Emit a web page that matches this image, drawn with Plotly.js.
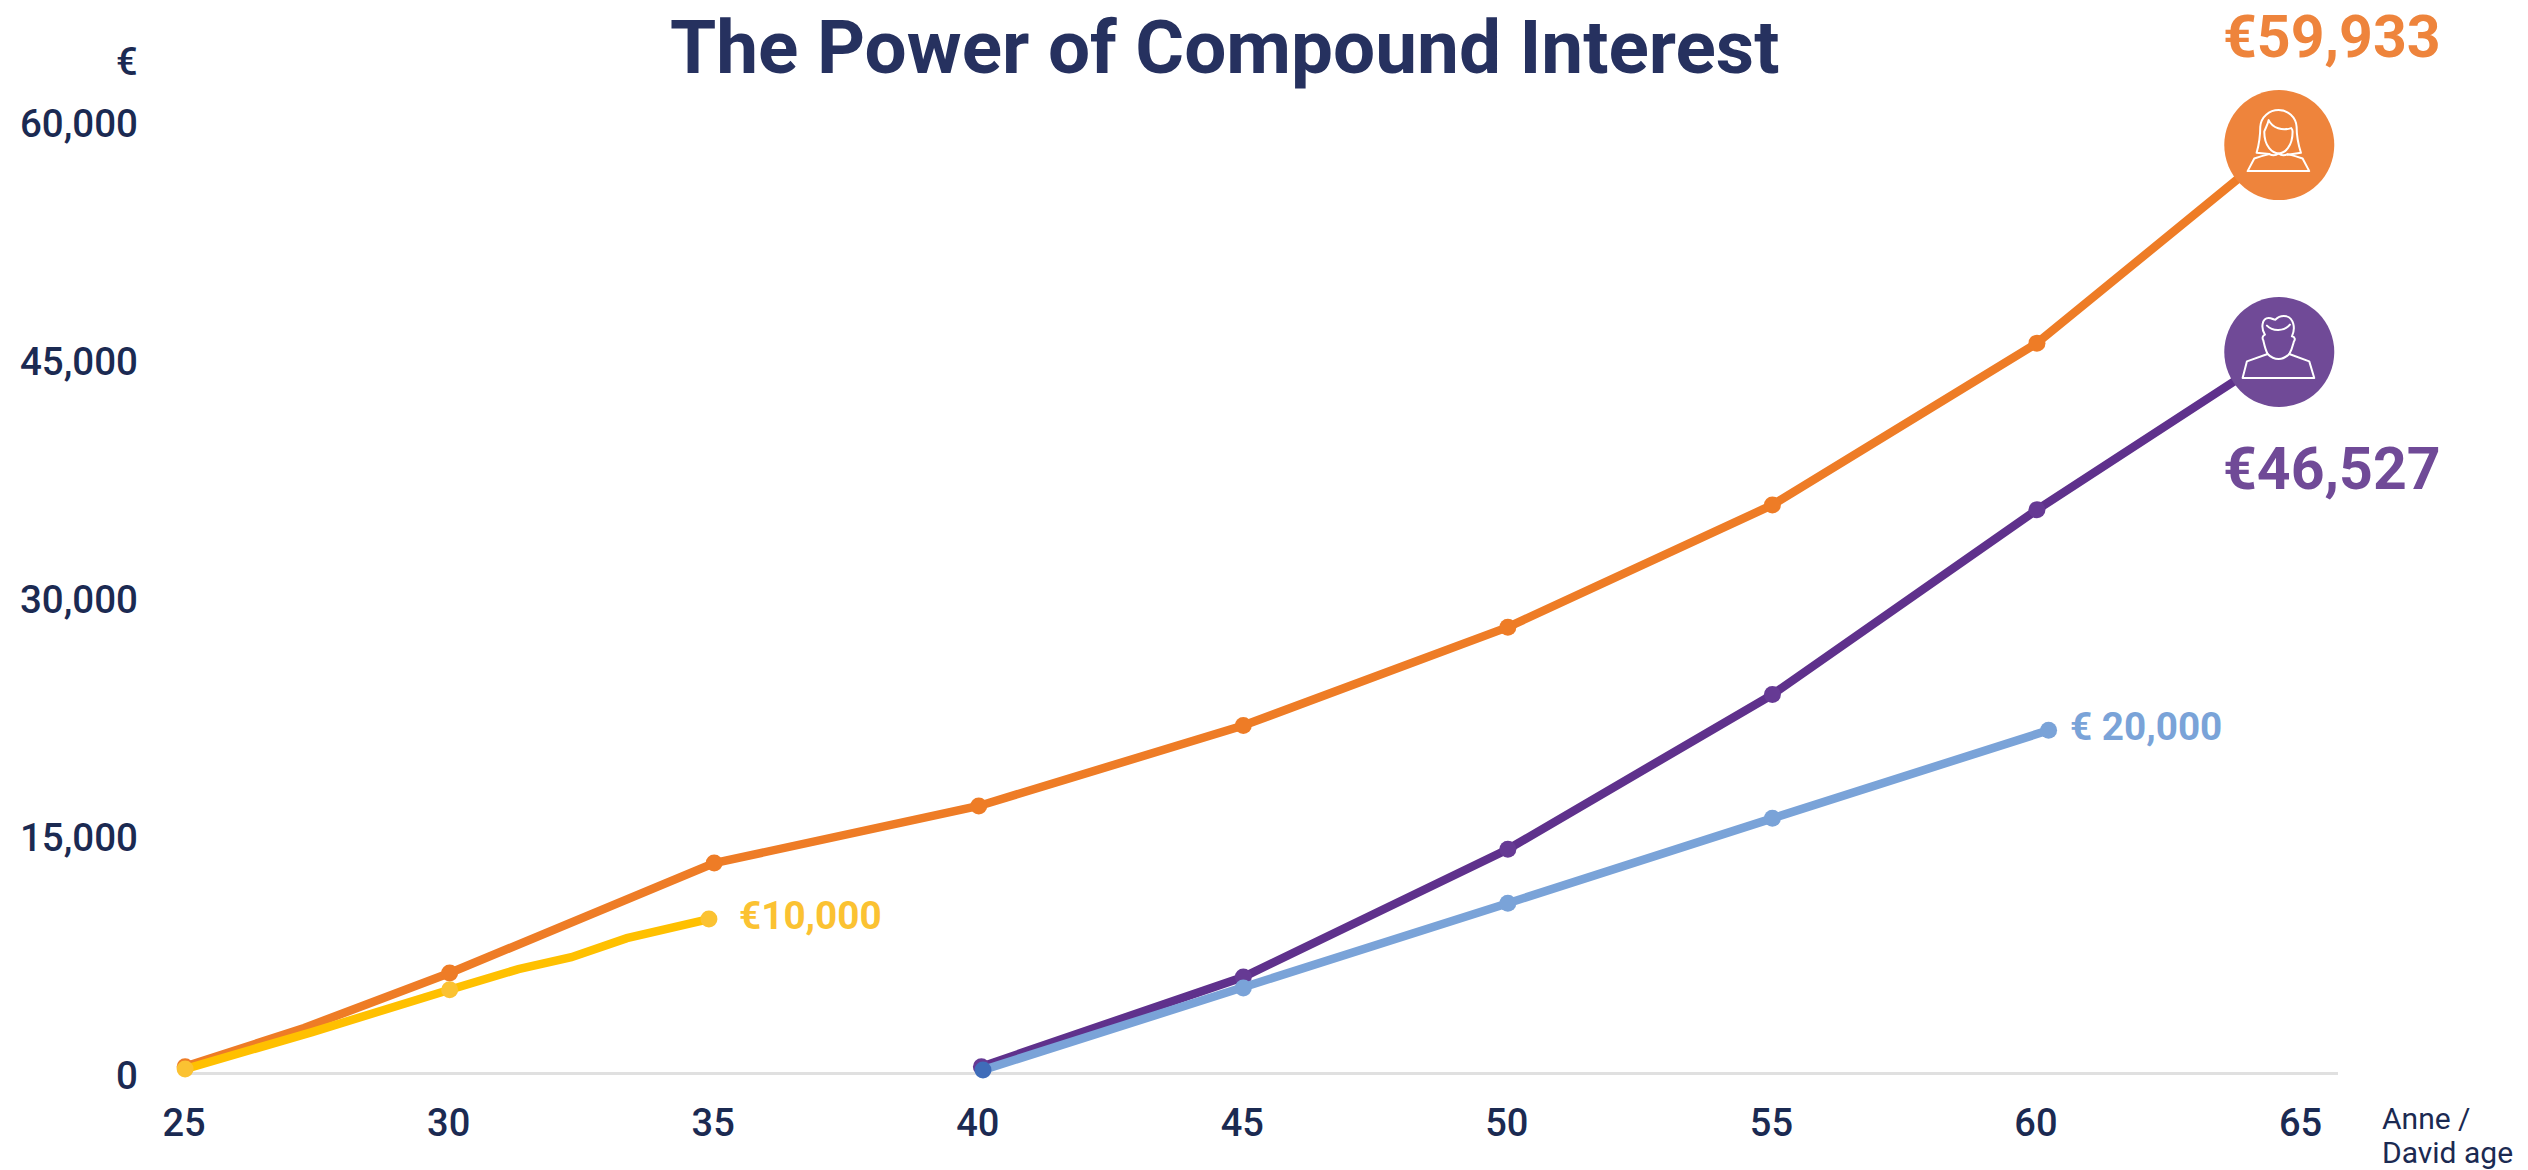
<!DOCTYPE html>
<html>
<head>
<meta charset="utf-8">
<script src="https://cdn.plot.ly/plotly-3.0.1.min.js"></script>
<style>html,body{margin:0;padding:0;background:#fff}</style>
</head>
<body>
<div id="chart" style="width:2528px;height:1170px"></div>
<script>
const xTicks = [25, 30, 35, 40, 45, 50, 55, 60, 65];
const yTicks = [0, 15000, 30000, 45000, 60000];
const yTickLabels = ['0', '15,000', '30,000', '45,000', '60,000'];

const anneAges = [25, 27.25, 30, 35, 40, 45, 50, 55, 60, 64.58];
const anneValues = [400, 2840, 6300, 13230, 16830, 21900, 28100, 35800, 46000, 58480];
const anneSizes = [17, 0, 17, 17, 17, 17, 17, 17, 17, 110];
const anneColors = ['#ee7c26', '#ee7c26', '#ee7c26', '#ee7c26', '#ee7c26', '#ee7c26', '#ee7c26', '#ee7c26', '#ee7c26', '#ee843c'];

const anneSavedAges = [25, 27.4, 30, 31.3, 32.3, 33.35, 34.9];
const anneSavedValues = [250, 2580, 5250, 6550, 7300, 8500, 9700];
const anneSavedSizes = [17, 0, 17, 0, 0, 0, 17];

const davidAges = [40.05, 45, 50, 55, 60, 64.58];
const davidValues = [400, 6050, 14100, 23850, 35500, 45440];
const davidSizes = [17, 17, 17, 17, 17, 110];
const davidColors = ['#663a94', '#663a94', '#663a94', '#663a94', '#663a94', '#704a97'];

const davidSavedAges = [40.08, 45, 50, 55, 60.22];
const davidSavedValues = [190, 5350, 10700, 16050, 21600];
const davidSavedColors = ['#3f6cb9', '#7aa3d8', '#7aa3d8', '#7aa3d8', '#7aa3d8'];

const womanIcon = `<path d="M445 513H630L610 475Q590 468 565 462Q550 470 538 460Q525 470 510 462Q485 468 465 475Z"/>
<path d="M495 395C495 440 520 460 538 460C556 460 580 440 580 395C580 388 578 386 576 384C550 392 520 385 508 360C505 375 498 385 495 395Z"/>
<path d="M510 462L472 458C480 430 483 400 483 380C485 350 510 330 538 330C566 330 590 350 592 380C592 405 596 430 605 458L565 464"/>`;
const manIcon = `<path d="M430 1135H645L630 1085L570 1063Q555 1078 538 1078Q520 1078 505 1063L443 1085Z"/>
<path d="M505 1063C498 1050 495 1035 492 1022C488 1015 490 1008 497 1005C484 985 488 955 508 955C518 955 522 960 528 960C538 950 552 948 562 950C582 955 590 985 578 1010C588 1012 588 1020 584 1025C580 1040 578 1050 570 1063"/>
<path d="M503 978C520 996 555 996 572 975"/>`;

function iconSource(body, cy) {
  const svg = `<svg xmlns="http://www.w3.org/2000/svg" width="110" height="110" viewBox="0 0 110 110"><g transform="translate(55 55) scale(0.3333) translate(-540 -${cy})" fill="none" stroke="#ffffff" stroke-width="6" stroke-linejoin="round" stroke-linecap="round">${body}</g></svg>`;
  return 'data:image/svg+xml;base64,' + btoa(svg);
}

const line = (x, y, color, sizes, markerColors) => ({
  x, y, type: 'scatter', mode: 'lines+markers', cliponaxis: false, hoverinfo: 'skip',
  line: { color, width: 8.5 },
  marker: { size: sizes, color: markerColors || color, opacity: 1, line: { width: 0 } }
});

const traces = [
  line(anneAges, anneValues, '#ee7c26', anneSizes, anneColors),
  line(anneSavedAges, anneSavedValues, '#ffc000', anneSavedSizes, '#fbc232'),
  line(davidAges, davidValues, '#5f318c', davidSizes, davidColors),
  line(davidSavedAges, davidSavedValues, '#7aa3d8', 17, davidSavedColors)
];

const ink = '#1b2a52';
const xPerYear = 52.92;
const pxPerUnitY = 238 / 15000;
const last = a => a[a.length - 1];

const note = (text, x, y, size, color, weight, extra) => Object.assign({
  text, x, y, xref: 'x', yref: 'y', showarrow: false, xanchor: 'center', yanchor: 'middle',
  font: { family: 'Roboto', size, color, weight }
}, extra || {});

const corner = (text, x, y, xshift, yshift, size, weight, xanchor) => ({
  text, xref: 'paper', yref: 'paper', x, y, xshift, yshift, xanchor, yanchor: 'middle',
  showarrow: false, font: { family: 'Roboto', size, color: ink, weight }
});

const layout = {
  width: 2528, height: 1170,
  paper_bgcolor: '#ffffff', plot_bgcolor: '#ffffff',
  showlegend: false,
  margin: { l: 183, r: 190, t: 100, b: 97, pad: 0 },
  title: {
    text: 'The Power of Compound Interest',
    x: 0.4834, xanchor: 'center', xref: 'paper', y: 0.96, yanchor: 'middle', yref: 'container',
    font: { family: 'Roboto', size: 74.7, color: '#26315f', weight: 700 }
  },
  xaxis: {
    range: [24.96, 65.69], tickmode: 'array', tickvals: xTicks,
    showgrid: false, zeroline: false, showline: false, ticks: '',
    tickfont: { family: 'Roboto', size: 38, color: ink, weight: 500 },
    ticklabelstandoff: 24, ticklabelshift: -1
  },
  yaxis: {
    range: [0, 61323], tickmode: 'array', tickvals: yTicks, ticktext: yTickLabels,
    showgrid: false, zeroline: true, zerolinecolor: '#e0e0e0', zerolinewidth: 3, showline: false, ticks: '',
    tickfont: { family: 'Roboto', size: 38.5, color: ink, weight: 500 },
    ticklabelstandoff: 44, ticklabelshift: 3
  },
  images: [
    { source: iconSource(womanIcon, 435), xref: 'x', yref: 'y', x: last(anneAges), y: last(anneValues),
      sizex: 110 / xPerYear, sizey: 110 / pxPerUnitY, xanchor: 'center', yanchor: 'middle', sizing: 'stretch', layer: 'above' },
    { source: iconSource(manIcon, 1057), xref: 'x', yref: 'y', x: last(davidAges), y: last(davidValues),
      sizex: 110 / xPerYear, sizey: 110 / pxPerUnitY, xanchor: 'center', yanchor: 'middle', sizing: 'stretch', layer: 'above' }
  ],
  annotations: [
    note('€59,933', last(anneAges), last(anneValues), 59, '#ee843c', 700, { xshift: 53, yshift: 109 }),
    note('€46,527', last(davidAges), last(davidValues), 59, '#704a97', 700, { xshift: 53, yshift: -116 }),
    note('€10,000', last(anneSavedAges), last(anneSavedValues), 38.7, '#fbc232', 700, { xanchor: 'left', xshift: 28, yshift: 4 }),
    note('€ 20,000', last(davidSavedAges), last(davidSavedValues), 38.7, '#7aa3d8', 700, { xanchor: 'left', xshift: 19, yshift: 4 }),
    corner('€', 0, 1, -56, 38, 38, 500, 'center'),
    corner('Anne /', 1, 0, 42, -45, 30, 400, 'left'),
    corner('David age', 1, 0, 42, -79, 30, 400, 'left')
  ]
};

Plotly.newPlot('chart', traces, layout, { displayModeBar: false, staticPlot: true });
</script>
</body>
</html>
